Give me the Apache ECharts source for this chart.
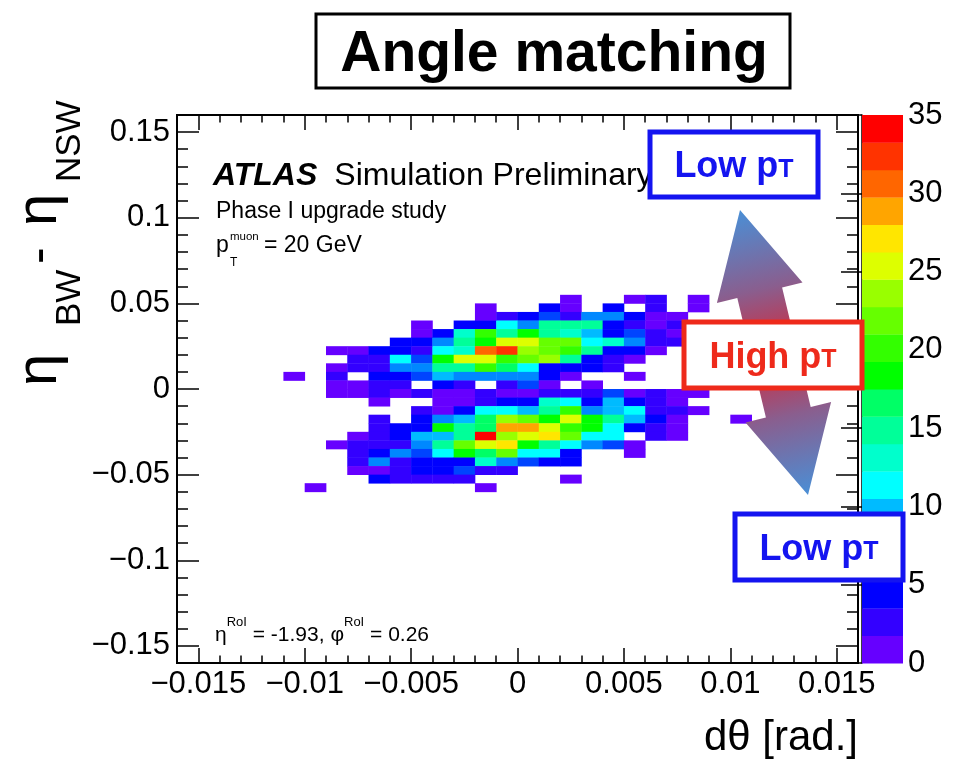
<!DOCTYPE html>
<html>
<head>
<meta charset="utf-8">
<script src="https://cdn.jsdelivr.net/npm/echarts@6/dist/echarts.min.js"></script>
<style>
  html, body { margin: 0; padding: 0; background: #fff; }
  #chart { width: 976px; height: 759px; }
</style>
</head>
<body>
<div id="chart"></div>
<script>
// bin size of the 2D histogram
const binW = 0.001;   // d theta
const binH = 0.005;   // eta_BW - eta_NSW

// lower edge of each column / row (rows top to bottom)
const xLow = [-0.011, -0.010, -0.009, -0.008, -0.007, -0.006, -0.005, -0.004, -0.003, -0.002, -0.001,
              0.000, 0.001, 0.002, 0.003, 0.004, 0.005, 0.006, 0.007, 0.008, 0.009, 0.010];
const yLow = [0.05, 0.045, 0.04, 0.035, 0.03, 0.025, 0.02, 0.015, 0.01, 0.005, 0.0,
              -0.005, -0.01, -0.015, -0.02, -0.025, -0.03, -0.035, -0.04, -0.045, -0.05, -0.055, -0.06];

// entries per bin, one row per yLow, one column per xLow
const counts = [
  [0,0,0,0,0,0,0,0,0,0,0, 0,0,1,0,0,1,3,0,1,0,0],
  [0,0,0,0,0,0,0,0,0,1,0, 0,4,1,0,4,0,3,0,1,0,0],
  [0,0,0,0,0,0,0,0,0,1,3, 4,6,3,8,8,4,1,1,0,0,0],
  [0,0,0,0,0,0,1,0,4,4,11, 8,15,15,15,4,3,1,3,0,0,0],
  [0,0,0,0,0,0,1,4,13,20,15, 18,15,13,10,4,6,3,1,0,0,0],
  [0,0,0,0,0,4,4,8,15,18,25, 25,22,22,11,13,8,3,3,0,0,0],
  [0,0,1,1,4,4,3,11,13,30,32, 24,22,20,15,4,4,1,0,0,0,0],
  [0,0,0,3,3,11,6,18,25,25,20, 22,24,15,4,3,1,0,0,0,0,0],
  [0,0,1,3,3,8,8,15,15,20,17, 11,4,4,4,3,0,0,0,0,0,0],
  [1,0,3,0,4,4,6,10,8,8,8, 8,4,1,0,0,1,0,0,0,0,0],
  [0,0,1,1,3,3,0,4,3,0,3, 6,1,0,1,0,0,0,0,0,0,0],
  [0,0,1,1,3,1,3,1,1,3,1, 1,3,3,3,6,1,3,1,1,0,0],
  [0,0,0,0,1,0,0,1,1,3,4, 4,13,11,4,10,4,3,1,0,0,0],
  [0,0,0,0,0,0,3,1,4,11,11, 10,15,20,8,10,11,3,3,1,0,0],
  [0,0,0,0,3,0,4,8,10,17,24, 22,18,25,18,15,10,4,1,0,0,1],
  [0,0,0,0,3,4,4,18,15,17,29, 29,25,20,18,11,4,3,1,0,0,0],
  [0,0,0,1,3,4,10,10,15,34,24, 25,27,22,11,11,0,3,1,0,0,0],
  [0,0,1,3,3,3,8,15,22,25,27, 18,15,11,8,6,1,0,0,0,0,0],
  [0,0,0,3,4,8,6,11,18,17,22, 11,11,4,0,0,1,0,0,0,0,0],
  [0,0,0,3,8,3,4,4,4,13,8, 6,4,4,0,0,0,0,0,0,0,0],
  [0,0,0,1,1,3,4,4,6,3,3, 0,0,0,0,0,0,0,0,0,0,0],
  [0,0,0,0,4,3,3,3,3,0,0, 0,0,1,0,0,0,0,0,0,0,0],
  [0,1,0,0,0,0,0,0,0,1,0, 0,0,0,0,0,0,0,0,0,0,0]
];

// axis ticks
const xMajor = [-0.015, -0.01, -0.005, 0, 0.005, 0.01, 0.015];
const yMajor = [-0.15, -0.1, -0.05, 0, 0.05, 0.1, 0.15];
const zMax = 35;

// colour scale: 20 contour levels
const zBands = [0, 1.75, 3.5, 5.25, 7, 8.75, 10.5, 12.25, 14, 15.75,
                17.5, 19.25, 21, 22.75, 24.5, 26.25, 28, 29.75, 31.5, 33.25];
const palette = ['#6600ff', '#3300ff', '#0000ff', '#0044ff', '#0088ff', '#00bbff', '#00ffff', '#00ffcc', '#00ff99', '#00ff66',
                 '#00ff00', '#33ff00', '#66ff00', '#99ff00', '#ddff00', '#ffe600', '#ffa500', '#ff6600', '#ff3300', '#ff0000'];

const FONT = '"Liberation Sans", Arial, Helvetica, sans-serif';

const cells = [];
yLow.forEach((y, i) => {
  xLow.forEach((x, j) => {
    if (counts[i][j] > 0) cells.push([x, y, counts[i][j]]);
  });
});

const bands = zBands.map((lo, k) => {
  const hi = k + 1 < zBands.length ? zBands[k + 1] : zMax;
  return [lo, hi, (lo + hi) / 2];
});

const pieces = zBands.map((lo, k) => ({
  gte: lo,
  lt: k + 1 < zBands.length ? zBands[k + 1] : zMax + 0.001,
  color: palette[k]
}));

const fmt = (v) => (v === 0 ? '0' : (v < 0 ? '\u2212' : '') + String(Math.abs(v)));

// helpers for the frame axes (ticks on all four sides, ROOT style)
function xAx(position, major, tickLen) {
  const ax = {
    gridIndex: 0, type: 'value', min: -0.016, max: 0.016, position: position,
    axisLine: { show: true, onZero: false, lineStyle: { color: '#000', width: 2 } },
    splitLine: { show: false },
    axisTick: { show: true, inside: true, length: tickLen, lineStyle: { color: '#000', width: 1.5 } },
    axisLabel: { show: false }
  };
  if (major) {
    ax.axisTick.customValues = xMajor;
    if (position === 'bottom') {
      ax.axisLabel = { show: true, customValues: xMajor, formatter: fmt, fontSize: 31, color: '#000', fontFamily: FONT, margin: 6 };
    }
  } else {
    ax.interval = 0.001;
  }
  return ax;
}

function yAx(position, major, tickLen) {
  const ax = {
    gridIndex: 0, type: 'value', min: -0.16, max: 0.16, position: position,
    axisLine: { show: true, onZero: false, lineStyle: { color: '#000', width: 2 } },
    splitLine: { show: false },
    axisTick: { show: true, inside: true, length: tickLen, lineStyle: { color: '#000', width: 1.5 } },
    axisLabel: { show: false }
  };
  if (major) {
    ax.axisTick.customValues = yMajor;
    if (position === 'left') {
      ax.axisLabel = { show: true, customValues: yMajor, formatter: fmt, fontSize: 31, color: '#000', fontFamily: FONT, margin: 7 };
    }
  } else {
    ax.interval = 0.01;
  }
  return ax;
}

const chart = echarts.init(document.getElementById('chart'), null, { renderer: 'canvas', width: 976, height: 759 });

const boxText = (x, y, w, h, color, label) => ([
  {
    type: 'rect', z: 110,
    shape: { x: x, y: y, width: w, height: h },
    style: { fill: '#fff', stroke: color, lineWidth: 5 }
  },
  {
    type: 'text', z: 111, x: x + w / 2, y: y + h / 2 + 1,
    style: {
      text: '{a|' + label + ' p}{b|T}',
      align: 'center', verticalAlign: 'middle',
      rich: {
        a: { fontSize: 36, fontWeight: 'bold', fill: color, fontFamily: FONT, lineHeight: 40, verticalAlign: 'bottom' },
        b: { fontSize: 25, fontWeight: 'bold', fill: color, fontFamily: FONT, lineHeight: 40, verticalAlign: 'bottom', padding: [0, 0, 3, 0] }
      }
    }
  }
]);

chart.setOption({
  animation: false,
  backgroundColor: '#fff',
  grid: [
    { left: 177, top: 115, width: 681, height: 548, outerBoundsMode: 'none' },
    { left: 862, top: 115, width: 41, height: 548, outerBoundsMode: 'none' }
  ],
  xAxis: [
    xAx('bottom', true, 15),
    xAx('bottom', false, 7.5),
    xAx('top', true, 15),
    xAx('top', false, 7.5),
    { gridIndex: 1, type: 'value', min: 0, max: 1, show: false }
  ],
  yAxis: [
    yAx('left', true, 22),
    yAx('left', false, 11),
    yAx('right', true, 22),
    yAx('right', false, 11),
    {
      gridIndex: 1, type: 'value', min: 0, max: zMax, interval: 5, position: 'right',
      axisLine: { show: true, lineStyle: { color: '#000', width: 1.5 } },
      splitLine: { show: false },
      axisTick: { show: true, inside: true, length: 21, lineStyle: { color: '#000', width: 1.5 } },
      axisLabel: { show: true, fontSize: 31, color: '#000', fontFamily: FONT, margin: 5 }
    }
  ],
  visualMap: {
    type: 'piecewise', show: false, dimension: 2, seriesIndex: [0, 1], pieces: pieces
  },
  series: [
    {
      type: 'custom', name: 'hist', xAxisIndex: 0, yAxisIndex: 0, data: cells,
      encode: { x: 0, y: 1 },
      renderItem: (params, api) => {
        const x = api.value(0), y = api.value(1);
        const p0 = api.coord([x, y + binH]);
        const p1 = api.coord([x + binW, y]);
        return {
          type: 'rect',
          shape: { x: p0[0], y: p0[1], width: p1[0] - p0[0] + 0.4, height: p1[1] - p0[1] + 0.4 },
          style: { fill: api.visual('color') }
        };
      }
    },
    {
      type: 'custom', name: 'palette', xAxisIndex: 4, yAxisIndex: 4, data: bands,
      encode: { y: [0, 1] },
      renderItem: (params, api) => {
        const p0 = api.coord([0, api.value(1)]);
        const p1 = api.coord([1, api.value(0)]);
        return {
          type: 'rect',
          shape: { x: p0[0], y: p0[1], width: p1[0] - p0[0], height: p1[1] - p0[1] + 0.4 },
          style: { fill: api.visual('color') }
        };
      }
    }
  ],
  graphic: [
    // title
    {
      type: 'rect', z: 100, shape: { x: 316, y: 14, width: 474, height: 74 },
      style: { fill: '#fff', stroke: '#000', lineWidth: 3 }
    },
    {
      type: 'text', z: 101, x: 554, y: 55,
      style: { text: 'Angle matching', fontSize: 57, fontWeight: 'bold', fontFamily: FONT, fill: '#000', align: 'center', verticalAlign: 'middle' }
    },
    // y axis title, read bottom to top
    {
      type: 'text', z: 100, x: 40, y: 386, rotation: Math.PI / 2,
      style: { text: '\u03b7', fontSize: 58, fontFamily: FONT, fill: '#000', align: 'left', verticalAlign: 'middle' }
    },
    {
      type: 'text', z: 100, x: 70, y: 326, rotation: Math.PI / 2,
      style: { text: 'BW', fontSize: 35, fontFamily: FONT, fill: '#000', align: 'left', verticalAlign: 'middle' }
    },
    {
      type: 'text', z: 100, x: 40, y: 264, rotation: Math.PI / 2,
      style: { text: '-', fontSize: 50, fontFamily: FONT, fill: '#000', align: 'left', verticalAlign: 'middle' }
    },
    {
      type: 'text', z: 100, x: 40, y: 226, rotation: Math.PI / 2,
      style: { text: '\u03b7', fontSize: 58, fontFamily: FONT, fill: '#000', align: 'left', verticalAlign: 'middle' }
    },
    {
      type: 'text', z: 100, x: 70, y: 182, rotation: Math.PI / 2,
      style: { text: 'NSW', fontSize: 35, fontFamily: FONT, fill: '#000', align: 'left', verticalAlign: 'middle' }
    },
    // x axis title
    {
      type: 'text', z: 100, x: 858, y: 738,
      style: { text: 'd\u03b8 [rad.]', fontSize: 42, fontFamily: FONT, fill: '#000', align: 'right', verticalAlign: 'middle' }
    },
    // ATLAS label
    {
      type: 'text', z: 100, x: 213, y: 176,
      style: {
        text: '{b|ATLAS}{n|Simulation Preliminary}', align: 'left', verticalAlign: 'middle',
        rich: {
          b: { fontSize: 32, fontWeight: 'bold', fontStyle: 'italic', fontFamily: FONT, fill: '#000' },
          n: { fontSize: 32, fontFamily: FONT, fill: '#000', padding: [0, 0, 0, 17] }
        }
      }
    },
    {
      type: 'text', z: 100, x: 216, y: 212,
      style: { text: 'Phase I upgrade study', fontSize: 23, fontFamily: FONT, fill: '#000', align: 'left', verticalAlign: 'middle' }
    },
    {
      type: 'text', z: 100, x: 216, y: 246,
      style: { text: 'p', fontSize: 23, fontFamily: FONT, fill: '#000', align: 'left', verticalAlign: 'middle' }
    },
    {
      type: 'text', z: 100, x: 230, y: 237,
      style: { text: 'muon', fontSize: 11.5, fontFamily: FONT, fill: '#000', align: 'left', verticalAlign: 'middle' }
    },
    {
      type: 'text', z: 100, x: 230, y: 263,
      style: { text: 'T', fontSize: 12, fontFamily: FONT, fill: '#000', align: 'left', verticalAlign: 'middle' }
    },
    {
      type: 'text', z: 100, x: 264, y: 246,
      style: { text: '= 20 GeV', fontSize: 23, fontFamily: FONT, fill: '#000', align: 'left', verticalAlign: 'middle' }
    },
    {
      type: 'text', z: 100, x: 215, y: 631,
      style: {
        text: '{n|\u03b7}{s|RoI}{n| = -1.93, \u03c6}{s|RoI}{n| = 0.26}', align: 'left', verticalAlign: 'middle',
        rich: {
          n: { fontSize: 21, fontFamily: FONT, fill: '#000', lineHeight: 30, verticalAlign: 'bottom' },
          s: { fontSize: 13, fontFamily: FONT, fill: '#000', lineHeight: 30, verticalAlign: 'top' }
        }
      }
    },
    // double arrow
    {
      type: 'polygon', z: 105,
      shape: {
        points: [[740, 210], [802.5, 282.5], [782.1, 287.4], [810.7, 407.0], [831.1, 402.1],
                 [808, 495], [745.5, 422.5], [765.9, 417.6], [737.3, 298.0], [716.9, 302.9]]
      },
      style: {
        fill: {
          type: 'linear', x: 740, y: 210, x2: 808, y2: 495, global: true,
          colorStops: [
            { offset: 0, color: '#4a8fd6' },
            { offset: 0.28, color: '#8a5e8e' },
            { offset: 0.5, color: '#d4283a' },
            { offset: 0.72, color: '#8a5e8e' },
            { offset: 1, color: '#4a8fd6' }
          ]
        }
      }
    },
    ...boxText(650, 132, 168, 65, '#1414f0', 'Low'),
    ...boxText(684, 322, 178, 66, '#ee2a1b', 'High'),
    ...boxText(735, 514, 168, 66, '#1414f0', 'Low')
  ]
});
</script>
</body>
</html>
